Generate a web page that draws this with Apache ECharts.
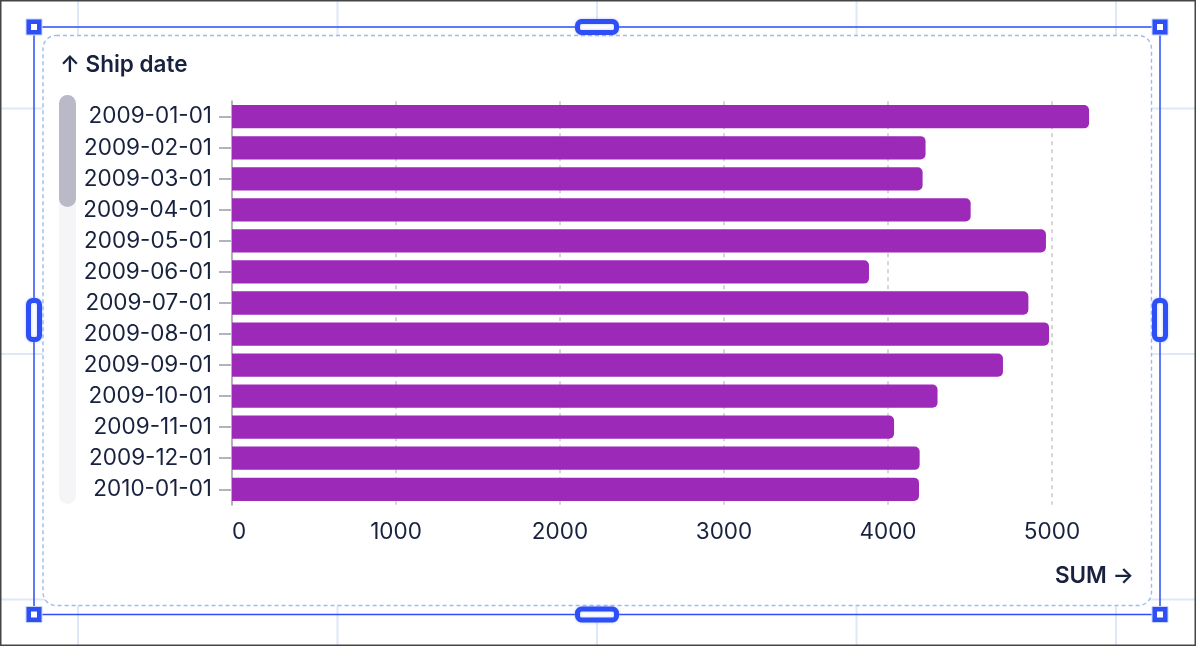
<!DOCTYPE html>
<html>
<head>
<meta charset="utf-8">
<script src="https://cdn.jsdelivr.net/npm/echarts@6/dist/echarts.min.js"></script>
<style>
html,body{margin:0;padding:0;background:#fff;}
#main{width:1196px;height:646px;}
</style>
</head>
<body>
<div id="main"></div>
<script>
// ---- data ----
var categories = ['2009-01-01','2009-02-01','2009-03-01','2009-04-01','2009-05-01','2009-06-01','2009-07-01','2009-08-01','2009-09-01','2009-10-01','2009-11-01','2009-12-01','2010-01-01'];
var sumValues = [5226, 4229, 4211, 4504, 4963, 3884, 4856, 4982, 4701, 4302, 4037, 4193, 4189];
var yAxisTitle = '\u2191 Ship date';
var xAxisTitle = 'SUM \u2192';

var chart = echarts.init(document.getElementById('main'), null, {renderer: 'canvas'});

var TEXT = '#18223f';
var FONT = 'Inter, "Noto Sans", sans-serif';
var BLUE = '#2d4ff5';
var GRIDBLUE = '#dde8f9';

var graphics = [];
// background editor grid
[78, 337.5, 597, 856.5, 1116].forEach(function (x) {
  graphics.push({type: 'line', z: -30, silent: true, shape: {x1: x, y1: 0, x2: x, y2: 646}, style: {stroke: GRIDBLUE, lineWidth: 2}});
});
[108.5, 354, 599.5].forEach(function (y) {
  graphics.push({type: 'line', z: -30, silent: true, shape: {x1: 0, y1: y, x2: 1196, y2: y}, style: {stroke: GRIDBLUE, lineWidth: 2}});
});
// card
graphics.push({type: 'rect', z: -20, silent: true, shape: {x: 43, y: 35.5, width: 1108.5, height: 570, r: 13},
  style: {fill: '#ffffff', stroke: '#9bbcf0', lineWidth: 1.4, lineDash: [4, 3]}});
// scrollbar
graphics.push({type: 'rect', z: -10, silent: true, shape: {x: 59, y: 95, width: 17, height: 409, r: 8.5}, style: {fill: '#f5f5f8'}});
graphics.push({type: 'rect', z: -9, silent: true, shape: {x: 59, y: 95, width: 17, height: 112, r: 8.5}, style: {fill: '#b9b9c7'}});
// axis titles
graphics.push({type: 'text', z: 10, left: 60, top: 54, style: {text: yAxisTitle, fill: TEXT, font: '600 22.5px ' + FONT}});
graphics.push({type: 'text', z: 10, right: 1196 - 1134, top: 565, style: {text: xAxisTitle, fill: TEXT, font: '600 22.5px ' + FONT}});
// selection frame
graphics.push({type: 'rect', z: 50, silent: true, shape: {x: 34, y: 27, width: 1126, height: 587.5}, style: {fill: 'none', stroke: BLUE, lineWidth: 1.5}});
[[34, 27], [1160, 27], [34, 614.5], [1160, 614.5]].forEach(function (p) {
  graphics.push({type: 'rect', z: 60, silent: true, shape: {x: p[0] - 8, y: p[1] - 8, width: 16, height: 16}, style: {fill: BLUE, stroke: '#c9d6fb', lineWidth: 1}});
  graphics.push({type: 'rect', z: 61, silent: true, shape: {x: p[0] - 3, y: p[1] - 3, width: 6, height: 6}, style: {fill: '#ffffff'}});
});
[[597, 27, 'h'], [597, 614.5, 'h'], [34, 320, 'v'], [1160, 320, 'v']].forEach(function (p) {
  var w = p[2] === 'h' ? 39 : 11, h = p[2] === 'h' ? 11 : 39;
  graphics.push({type: 'rect', z: 60, silent: true, shape: {x: p[0] - w / 2, y: p[1] - h / 2, width: w, height: h, r: 4},
    style: {fill: '#ffffff', stroke: BLUE, lineWidth: 5, shadowColor: 'rgba(120,150,250,0.5)', shadowBlur: 3}});
});
// outer image border
graphics.push({type: 'rect', z: 70, silent: true, shape: {x: 0.75, y: 0.75, width: 1194.5, height: 644.5}, style: {fill: 'none', stroke: '#454545', lineWidth: 1.5}});

var option = {
  backgroundColor: '#ffffff',
  animation: false,
  graphic: graphics,
  grid: {left: 232, right: 62, top: 101.2, height: 403.6, outerBoundsMode: 'none', containLabel: false},
  xAxis: {
    type: 'value', min: 0, max: 5500, interval: 1000,
    axisLine: {show: false}, axisTick: {show: false},
    axisLabel: {color: TEXT, fontSize: 22.5, fontFamily: FONT, margin: 16, showMaxLabel: false, alignMinLabel: 'left',
      formatter: function (v) { return String(v); }},
    splitLine: {show: true, showMinLine: false, showMaxLine: false, lineStyle: {color: '#c9c9cc', width: 1.5, type: [4, 4]}}
  },
  yAxis: {
    type: 'category', data: categories, inverse: true,
    axisLine: {show: true, lineStyle: {color: '#b3b3bb', width: 2}},
    axisTick: {show: true, alignWithLabel: true, length: 13, lineStyle: {color: '#b3b3bb', width: 2}},
    axisLabel: {color: TEXT, fontSize: 22.5, fontFamily: FONT, margin: 20},
    splitLine: {show: false}
  },
  series: [{
    type: 'bar', data: sumValues, barWidth: '75%',
    itemStyle: {color: '#9d29b8', borderRadius: [0, 5, 5, 0]}
  }]
};
chart.setOption(option);
</script>
</body>
</html>
